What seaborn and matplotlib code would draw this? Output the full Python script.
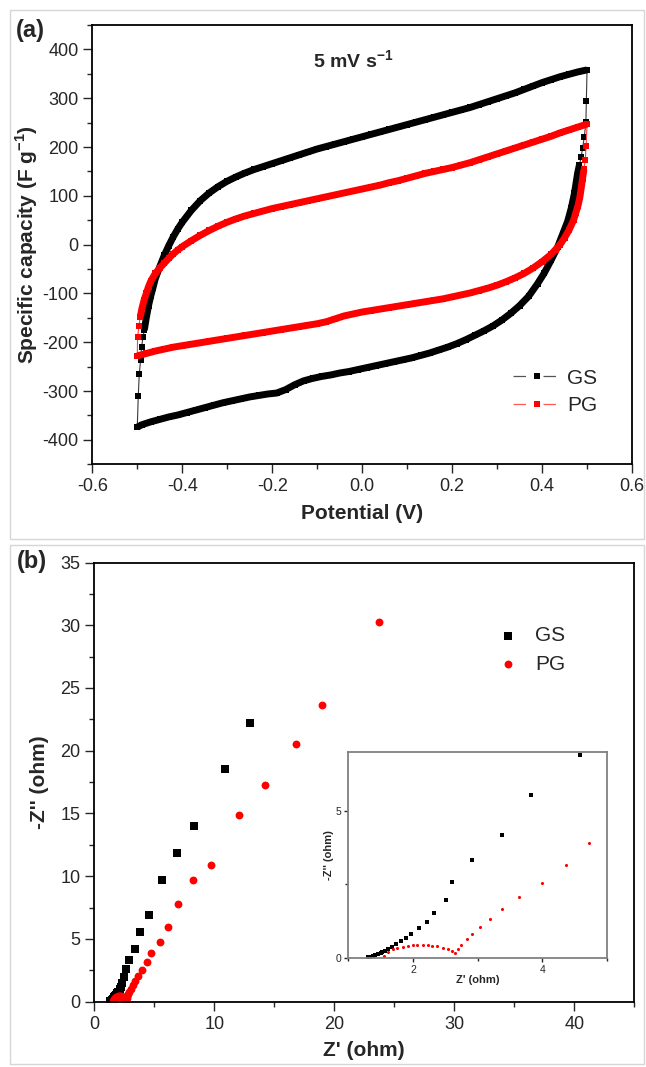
import numpy as np
import pandas as pd
import matplotlib
matplotlib.use('Agg')
import matplotlib.pyplot as plt
import seaborn as sns
from matplotlib.ticker import MultipleLocator
from matplotlib.lines import Line2D
from matplotlib.patches import Rectangle

# ---- (a) CV curves, 5 mV/s: potential (V) vs specific capacity (F/g) ----
gs_up_v = [-0.5, -0.4978, -0.4956, -0.4926, -0.4904, -0.4874, -0.4844, -0.48, -0.475, -0.47, -0.465,
           -0.46, -0.45, -0.44, -0.43, -0.42, -0.41, -0.40, -0.38, -0.36, -0.34, -0.32, -0.30, -0.28,
           -0.26, -0.24, -0.22, -0.20, -0.18, -0.16, -0.14, -0.12, -0.10, -0.08, -0.06, -0.04, -0.02,
           0.0, 0.02, 0.04, 0.06, 0.08, 0.10, 0.12, 0.14, 0.16, 0.18, 0.20, 0.22, 0.24, 0.26, 0.28,
           0.30, 0.32, 0.34, 0.36, 0.38, 0.40, 0.42, 0.44, 0.46, 0.48, 0.50]
gs_up_c = [-374, -310, -266, -236, -210, -190, -175, -150, -125, -105, -88,
           -70, -45, -22, -2, 16, 32, 46, 70, 90, 106, 119, 130, 139,
           147, 154, 160, 166, 172, 178, 184, 190, 196, 201, 206, 211, 216,
           221, 226, 231, 236, 241, 246, 251, 256, 261, 266, 271, 276, 281, 287, 293,
           299, 305, 311, 318, 325, 332, 338, 344, 349, 354, 358]
gs_dn_v = [0.5, 0.4985, 0.4975, 0.494, 0.490, 0.487, 0.483, 0.479, 0.472, 0.465, 0.457, 0.446,
           0.435, 0.42, 0.405, 0.39, 0.37, 0.35, 0.33, 0.31, 0.29, 0.27, 0.25, 0.23, 0.21, 0.19,
           0.17, 0.15, 0.13, 0.11, 0.09, 0.07, 0.05, 0.03, 0.01, -0.01, -0.03, -0.05, -0.07, -0.09,
           -0.11, -0.13, -0.15, -0.17, -0.19, -0.21, -0.23, -0.25, -0.27, -0.29, -0.31, -0.33,
           -0.35, -0.37, -0.39, -0.41, -0.43, -0.45, -0.47, -0.49, -0.5]
gs_dn_c = [358, 294, 252, 221, 197, 180, 163, 146, 105, 75, 48, 22,
           -4, -32, -58, -80, -106, -125, -141, -155, -167, -177, -186, -195, -203, -210,
           -216, -222, -227, -232, -236, -240, -244, -248, -252, -256, -260, -263, -267, -270,
           -274, -279, -287, -297, -304, -306, -309, -312, -316, -320, -324, -329,
           -334, -339, -344, -349, -353, -358, -363, -369, -374]

pg_up_v = [-0.5, -0.4993, -0.4963, -0.4933, -0.49, -0.485, -0.48, -0.475, -0.47, -0.46, -0.45,
           -0.44, -0.43, -0.42, -0.41, -0.40, -0.38, -0.36, -0.34, -0.32, -0.30, -0.28, -0.26,
           -0.24, -0.22, -0.20, -0.18, -0.16, -0.14, -0.12, -0.10, -0.08, -0.06, -0.04, -0.02,
           0.0, 0.02, 0.04, 0.06, 0.08, 0.10, 0.12, 0.14, 0.16, 0.18, 0.20, 0.22, 0.24, 0.26,
           0.28, 0.30, 0.32, 0.34, 0.36, 0.38, 0.40, 0.42, 0.44, 0.46, 0.48, 0.50]
pg_up_c = [-228, -190, -167, -148, -132, -114, -100, -86, -75, -59, -48,
           -38, -28, -19, -11, -4, 8, 19, 29, 38, 46, 53, 59,
           64, 69, 74, 78, 82, 86, 90, 94, 98, 102, 106, 110,
           114, 118, 122, 127, 131, 136, 141, 146, 150, 154, 158, 163, 168, 174,
           180, 186, 192, 198, 204, 210, 216, 222, 229, 235, 241, 247]
pg_dn_v = [0.5, 0.498, 0.496, 0.493, 0.49, 0.487, 0.484, 0.48, 0.475, 0.47, 0.46, 0.45, 0.44,
           0.43, 0.42, 0.40, 0.38, 0.36, 0.34, 0.32, 0.30, 0.28, 0.26, 0.24, 0.22, 0.20, 0.18,
           0.16, 0.14, 0.12, 0.10, 0.08, 0.06, 0.04, 0.02, 0.0, -0.02, -0.04, -0.06, -0.08,
           -0.10, -0.12, -0.14, -0.16, -0.18, -0.20, -0.22, -0.24, -0.26, -0.28, -0.30, -0.32,
           -0.34, -0.36, -0.38, -0.40, -0.42, -0.44, -0.46, -0.48, -0.50]
pg_dn_c = [247, 202, 173, 154, 135, 115, 97, 80, 65, 50, 30, 14, 0,
           -10, -20, -35, -48, -59, -68, -76, -83, -89, -94, -99, -103, -107, -111,
           -114, -117, -120, -123, -126, -129, -132, -135, -138, -142, -146, -152, -158,
           -162, -165, -168, -171, -174, -177, -180, -183, -186, -189, -192, -195,
           -198, -201, -204, -207, -210, -214, -218, -223, -228]

# ---- (b) Nyquist plots: Z' (ohm) vs -Z'' (ohm) ----
gs_zr = [1.30, 1.34, 1.38, 1.42, 1.46, 1.50, 1.53, 1.57, 1.61, 1.67, 1.74, 1.81, 1.89, 1.97,
         2.10, 2.22, 2.32, 2.51, 2.61, 2.91, 3.38, 3.83, 4.58, 5.67, 6.89, 8.33, 10.9, 12.97]
gs_zi = [0.01, 0.03, 0.05, 0.08, 0.12, 0.15, 0.19, 0.23, 0.28, 0.37, 0.46, 0.56, 0.68, 0.80,
         1.01, 1.21, 1.51, 1.98, 2.58, 3.33, 4.17, 5.53, 6.91, 9.71, 11.84, 14.02, 18.55, 22.2]
pg_zr = [1.56, 1.61, 1.69, 1.76, 1.84, 1.92, 2.00, 2.07, 2.15, 2.23, 2.30, 2.38, 2.46, 2.54,
         2.61, 2.65, 2.70, 2.74, 2.83, 2.92, 3.03, 3.19, 3.38, 3.64, 3.99, 4.36, 4.72, 5.44,
         6.17, 6.94, 8.25, 9.69, 12.06, 14.19, 16.8, 19.0, 23.7]
pg_zi = [0.05, 0.18, 0.28, 0.33, 0.37, 0.40, 0.42, 0.43, 0.43, 0.42, 0.41, 0.38, 0.34, 0.29,
         0.22, 0.17, 0.30, 0.43, 0.65, 0.81, 1.05, 1.33, 1.65, 2.08, 2.53, 3.17, 3.91, 4.79,
         5.98, 7.79, 9.71, 10.9, 14.89, 17.23, 20.5, 23.62, 30.28]

sns.set_style('ticks')
plt.rcParams['font.family'] = ['Liberation Sans', 'DejaVu Sans']
plt.rcParams['axes.unicode_minus'] = False
plt.rcParams['mathtext.fontset'] = 'custom'
plt.rcParams['mathtext.rm'] = 'Liberation Sans'
plt.rcParams['mathtext.bf'] = 'Liberation Sans:bold'

W, H = 646, 1067
fig = plt.figure(figsize=(W / 100, H / 100), dpi=100)


def box(left, top, right, bottom):
    return [left / W, 1 - bottom / H, (right - left) / W, (bottom - top) / H]


ax_a = fig.add_axes(box(92.3, 25, 632, 464.3))
ax_b = fig.add_axes(box(94.3, 562.5, 634.3, 1001.7))
ax_in = fig.add_axes(box(348.2, 752.4, 607, 957.6))

# panel frames
for top, bottom in ((10, 539), (545, 1064)):
    fig.patches.append(Rectangle((10 / W, 1 - bottom / H), 634 / W, (bottom - top) / H,
                                 transform=fig.transFigure, fill=False, ec='#d6d6d6', lw=1.0))


def style_axes(ax, lab_size=13, frame='black', lw=1.3, major=6.5, minor=3.6):
    for s in ax.spines.values():
        s.set_color(frame)
        s.set_linewidth(lw)
    ax.tick_params(which='major', length=major, width=1.0, labelsize=lab_size, direction='out',
                   top=False, right=False, pad=3.5)
    ax.tick_params(which='minor', length=minor, width=1.0, direction='out', top=False, right=False)


# ---- panel (a) ----
def draw_cv(ax, v_up, c_up, v_dn, c_dn, color, thin, band_up, band_dn, z):
    loop = pd.DataFrame({'V': v_up + v_dn, 'C': c_up + c_dn})
    sns.lineplot(data=loop, x='V', y='C', sort=False, estimator=None, color=thin, lw=0.8,
                 marker='s', markersize=3.8, markerfacecolor=color, markeredgewidth=0,
                 ax=ax, zorder=z)
    for v, c, start in ((v_up, c_up, band_up), (v_dn, c_dn, band_dn)):
        ax.plot(v[start:], c[start:], color=color, lw=5.0, solid_capstyle='butt',
                solid_joinstyle='round', zorder=z + 0.1)


draw_cv(ax_a, gs_up_v, gs_up_c, gs_dn_v, gs_dn_c, 'black', '#3a3a3a', 6, 6, 2)
draw_cv(ax_a, pg_up_v, pg_up_c, pg_dn_v, pg_dn_c, '#ff0000', '#ff4040', 3, 3, 3)

ax_a.set_xlim(-0.6, 0.6)
ax_a.set_ylim(-450, 450)
ax_a.xaxis.set_major_locator(MultipleLocator(0.2))
ax_a.xaxis.set_minor_locator(MultipleLocator(0.1))
ax_a.yaxis.set_major_locator(MultipleLocator(100))
ax_a.yaxis.set_minor_locator(MultipleLocator(50))
ax_a.xaxis.set_major_formatter(plt.FuncFormatter(lambda x, p: f'{x:.1f}'))
style_axes(ax_a)
ax_a.set_xlabel('Potential (V)', fontsize=15, fontweight='bold', labelpad=6)
ax_a.set_ylabel(r'Specific capacity (F g$^{\mathbf{-1}}$)', fontsize=15, fontweight='bold', labelpad=2)

leg_a = [Line2D([], [], color='#555555', lw=0.9, linestyle=(0, (10, 14)), marker='s', markersize=4.5,
                markerfacecolor='black', markeredgewidth=0),
         Line2D([], [], color='#ff5a5a', lw=0.9, linestyle=(0, (10, 14)), marker='s', markersize=4.5,
                markerfacecolor='#ff0000', markeredgewidth=0)]
ax_a.legend(leg_a, ['GS', 'PG'], frameon=False, fontsize=15, handlelength=2.3,
            handletextpad=0.3, labelspacing=0.4, loc='upper left',
            bbox_to_anchor=(0.7795, 0.218), borderaxespad=0, borderpad=0)

fig.text(353 / W, 1 - 61 / H, r'5 mV s$^{\mathbf{-1}}$', fontsize=14, fontweight='bold',
         ha='center', va='center')
fig.text(30 / W, 1 - 30 / H, '(a)', fontsize=17, fontweight='bold', ha='center', va='center')

# ---- panel (b) ----
sns.scatterplot(x=gs_zr, y=gs_zi, marker='s', s=26, color='black', linewidth=0, label='GS', ax=ax_b)
sns.scatterplot(x=pg_zr, y=pg_zi, marker='o', s=32, color='#ff0000', linewidth=0, label='PG', ax=ax_b)
ax_b.set_xlim(0, 45)
ax_b.set_ylim(0, 35)
ax_b.xaxis.set_major_locator(MultipleLocator(10))
ax_b.xaxis.set_minor_locator(MultipleLocator(5))
ax_b.yaxis.set_major_locator(MultipleLocator(5))
ax_b.yaxis.set_minor_locator(MultipleLocator(2.5))
style_axes(ax_b)
ax_b.set_xlabel("Z' (ohm)", fontsize=15, fontweight='bold', labelpad=6)
ax_b.set_ylabel("-Z'' (ohm)", fontsize=15, fontweight='bold', labelpad=8)
ax_b.legend(frameon=False, fontsize=15, handlelength=1.0, handletextpad=0.8, labelspacing=0.45,
            loc='upper left', bbox_to_anchor=(0.7467, 0.855), borderaxespad=0, borderpad=0)
fig.text(31.5 / W, 1 - 561.7 / H, '(b)', fontsize=17, fontweight='bold', ha='center', va='center')

# inset: high-frequency region
sns.scatterplot(x=gs_zr, y=gs_zi, marker='s', s=6, color='black', linewidth=0, ax=ax_in)
sns.scatterplot(x=pg_zr, y=pg_zi, marker='o', s=5, color='#ff0000', linewidth=0, ax=ax_in)
ax_in.set_xlim(1.0, 5.0)
ax_in.set_ylim(0, 7)
ax_in.xaxis.set_major_locator(MultipleLocator(2))
ax_in.xaxis.set_minor_locator(MultipleLocator(1))
ax_in.yaxis.set_major_locator(MultipleLocator(5))
ax_in.yaxis.set_minor_locator(MultipleLocator(2.5))
style_axes(ax_in, lab_size=7.5, frame='#808080', lw=1.3, major=3, minor=2)
ax_in.tick_params(which='both', pad=2)
ax_in.set_xlabel("Z' (ohm)", fontsize=8, fontweight='bold', labelpad=0)
ax_in.set_ylabel("-Z'' (ohm)", fontsize=8, fontweight='bold', labelpad=1)

fig.savefig('out.png', dpi=100)
